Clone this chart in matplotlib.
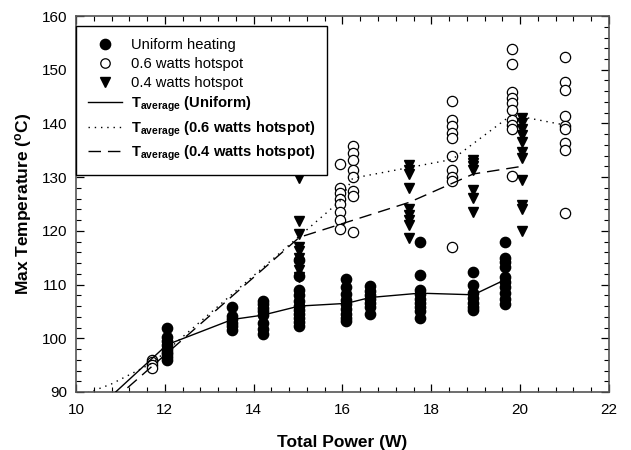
import matplotlib
matplotlib.use("Agg")
import matplotlib.pyplot as plt
from matplotlib.ticker import MultipleLocator
from matplotlib.lines import Line2D

plt.rcParams['font.family'] = ['Liberation Sans', 'DejaVu Sans']
plt.rcParams['mathtext.fontset'] = 'custom'
plt.rcParams['mathtext.rm'] = 'Liberation Sans'
plt.rcParams['mathtext.bf'] = 'Liberation Sans:bold'

# Uniform heating (filled circles): power -> list of max temperatures
uniform_x = [12.05, 13.52, 14.2, 15.03, 16.09, 16.63, 17.74, 18.95, 19.66]
uniform_y = [
    [102.0, 100.3, 99.5, 98.8, 98.0, 97.5, 97.0, 96.5, 96.0],
    [105.8, 104.2, 103.5, 102.8, 102.2, 101.6],
    [107.0, 106.3, 105.6, 105.0, 104.4, 102.8, 101.8, 100.8],
    [114.6, 111.6, 109.0, 108.0, 107.0, 106.0, 105.2, 104.5, 103.8, 103.0, 102.2],
    [111.0, 109.5, 108.2, 107.2, 106.3, 105.5, 104.6, 103.8, 103.2],
    [109.8, 108.8, 108.0, 107.3, 106.6, 105.9, 104.6],
    [118.0, 111.8, 109.0, 108.2, 107.4, 106.6, 105.8, 105.0, 103.7],
    [112.3, 110.0, 108.4, 107.5, 106.6, 105.8, 105.2],
    [118.0, 115.0, 114.2, 113.2, 111.5, 110.5, 109.5, 108.5, 107.4, 106.3],
]

# 0.6 W hotspot (open circles)
hot06_x = [11.72, 15.94, 16.23, 18.47, 19.81, 21.01]
hot06_y = [
    [96.0, 95.5, 95.0, 94.4],
    [132.5, 128.0, 127.0, 126.0, 125.0, 123.5, 122.0, 120.3],
    [135.8, 134.5, 133.2, 131.3, 130.0, 127.5, 126.5, 119.7],
    [144.2, 140.6, 139.5, 138.3, 137.2, 134.0, 131.3, 130.0, 129.3, 117.0],
    [153.8, 151.0, 145.8, 144.8, 143.8, 142.5, 140.6, 139.8, 139.0, 130.2],
    [152.4, 147.8, 146.3, 141.3, 139.6, 139.0, 136.3, 135.0, 123.3],
]

# 0.4 W hotspot (filled down triangles)
hot04_x = [15.03, 17.50, 18.95, 20.05]
hot04_y = [
    [129.8, 121.8, 119.5, 117.0, 116.3, 115.0, 114.0, 112.8, 111.5],
    [132.3, 131.3, 130.5, 128.0, 124.0, 123.0, 122.0, 121.0, 118.7],
    [133.2, 132.6, 132.0, 131.4, 127.6, 126.2, 123.6],
    [141.0, 140.0, 139.0, 137.8, 136.6, 134.7, 133.5, 129.5, 124.8, 124.0, 120.0],
]

# Average-temperature curves
avg_uni_x = [10.0, 12.05, 13.52, 14.2, 15.03, 16.09, 16.63, 17.74, 18.95, 19.66]
avg_uni_y = [83.2, 98.8, 103.5, 104.3, 106.0, 106.5, 107.6, 108.4, 108.1, 110.9]
avg_06_x = [10.0, 10.8, 11.72, 15.94, 16.23, 18.47, 19.81, 21.01]
avg_06_y = [89.0, 91.5, 95.4, 125.5, 129.8, 133.3, 141.6, 139.7]
avg_04_x = [10.5, 15.03, 17.50, 18.95, 20.03]
avg_04_y = [86.0, 118.8, 125.3, 130.6, 132.0]

fig = plt.figure(figsize=(6.31, 4.5), dpi=100)
ax = fig.add_axes([0.1204, 0.1289, 0.8446, 0.8355])


def flatten(xs, ys):
    px, py = [], []
    for x, col in zip(xs, ys):
        for v in col:
            px.append(x)
            py.append(v)
    return px, py

MS = 7.4
ux, uy = flatten(uniform_x, uniform_y)
ax.plot(ux, uy, 'o', ms=MS, mfc='black', mec='black', ls='none', zorder=3)
hx, hy = flatten(hot06_x, hot06_y)
ax.plot(hx, hy, 'o', ms=MS, mfc='white', mec='black', mew=0.9, ls='none', zorder=3)
tx, ty = flatten(hot04_x, hot04_y)
ax.plot(tx, ty, 'v', ms=MS + 0.5, mfc='black', mec='black', ls='none', zorder=3)

ax.plot(avg_uni_x, avg_uni_y, '-', color='black', lw=1.0, zorder=4)
ax.plot(avg_06_x, avg_06_y, color='black', lw=1.0, ls=(0, (1, 3.5)), zorder=4)
ax.plot(avg_04_x, avg_04_y, color='black', lw=1.0, ls=(0, (9, 5)), zorder=4)

ax.set_xlim(10, 22)
ax.set_ylim(90, 160)
ax.xaxis.set_major_locator(MultipleLocator(2))
ax.xaxis.set_minor_locator(MultipleLocator(0.4))
ax.yaxis.set_major_locator(MultipleLocator(10))
ax.yaxis.set_minor_locator(MultipleLocator(2))
ax.tick_params(which='both', direction='in', top=True, right=True, labelsize=11, color='black')
ax.tick_params(axis='y', which='major', length=6, width=0.9, pad=6)
ax.tick_params(axis='x', which='major', length=6, width=0.9, pad=8)
ax.tick_params(which='minor', length=3.5, width=0.8)
for s in ax.spines.values():
    s.set_linewidth(1.2)
    s.set_color('#555555')

ax.set_xlabel('Total Power (W)', fontsize=12.5, fontweight='bold', labelpad=13)
ax.set_ylabel(r'Max Temperature ($\mathregular{^{o}}$C)', fontsize=12.5, fontweight='bold', labelpad=6)

handles = [
    Line2D([], [], marker='o', ls='none', ms=MS, mfc='black', mec='black'),
    Line2D([], [], marker='o', ls='none', ms=MS - 0.6, mfc='white', mec='black', mew=0.9),
    Line2D([], [], marker='v', ls='none', ms=MS, mfc='black', mec='black'),
    Line2D([], [], color='black', lw=1.0, ls='-'),
    Line2D([], [], color='black', lw=1.0, ls=(0, (1, 3.5))),
    Line2D([], [], color='black', lw=1.0, ls=(0, (9, 5))),
]
labels = ['Uniform heating', '0.6 watts hotspot', '0.4 watts hotspot',
          r'T$_{\mathbf{average}}$ (Uniform)',
          r'T$_{\mathbf{average}}$ (0.6 watts hotspot)',
          r'T$_{\mathbf{average}}$ (0.4 watts hotspot)']
leg = ax.legend(handles, labels, loc='upper left', bbox_to_anchor=(0.0, 0.973),
                frameon=True, fancybox=False, edgecolor='black', framealpha=1,
                fontsize=10.6, handlelength=2.3, handletextpad=0.65, labelspacing=0.33,
                borderpad=0.8, borderaxespad=0.0)
leg.get_frame().set_linewidth(1.0)
for i, t in enumerate(leg.get_texts()):
    if i >= 3:
        t.set_fontweight('bold')

fig.savefig('out.png', dpi=100)
